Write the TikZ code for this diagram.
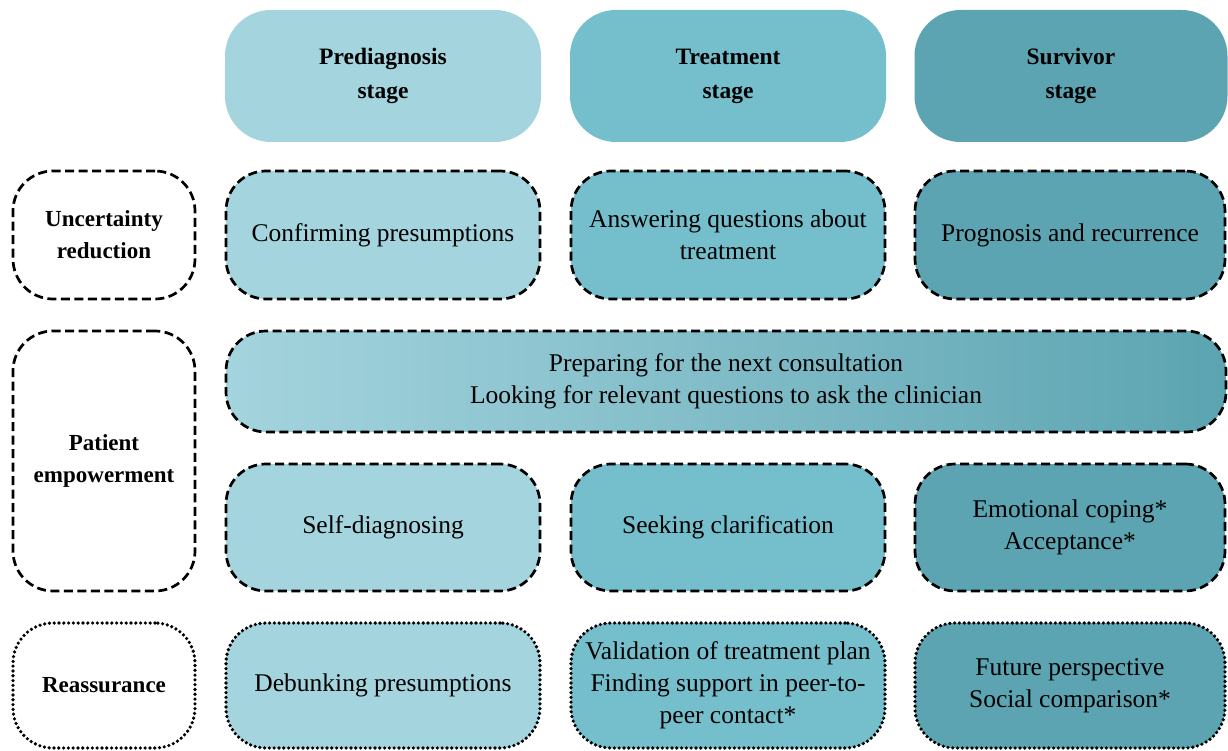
\documentclass[tikz,border=0pt]{standalone}
\usepackage{fontspec}
\setmainfont{Liberation Serif}
\definecolor{cpre}{HTML}{A4D4DE}
\definecolor{ctre}{HTML}{75BECC}
\definecolor{csur}{HTML}{5CA4B1}
\tikzset{
  box/.style={rectangle, rounded corners=40pt, align=center, inner sep=2pt, text=black,
    font=\fontsize{25.5}{32}\selectfont},
  head/.style={box, rounded corners=46pt, font=\bfseries\fontsize{23.5}{34}\selectfont,
    minimum width=316pt, minimum height=132pt},
  cell/.style={box, minimum width=314pt},
  lab/.style={box, fill=white, minimum width=182pt, font=\bfseries\fontsize{23}{32}\selectfont},
  dsh/.style={draw=black, line width=2.7pt, dash pattern=on 9pt off 4.5pt},
  dot/.style={draw=black, line width=3.6pt, line cap=round, dash pattern=on 0pt off 4.8pt},
}
\begin{document}
\begin{tikzpicture}[x=1pt,y=-1pt]
\useasboundingbox (0,0) rectangle (1228,751);
% headers
\node[head, fill=cpre] (hpre) at (383,76) {Prediagnosis\\stage};
\node[head, fill=ctre] (htre) at (728,76) {Treatment\\stage};
\node[head, fill=csur, minimum width=313pt] (hsur) at (1071,76) {Survivor\\stage};
% row labels
\node[lab, dsh, minimum height=128pt] (lunc) at (104,235) {Uncertainty\\reduction};
\node[lab, dsh, minimum height=260pt] (lemp) at (104,461) {Patient\\empowerment};
\node[lab, dot, minimum height=125pt] (lrea) at (104,685.5) {Reassurance};
% row 1
\node[cell, dsh, fill=cpre, minimum height=128pt] (c11) at (383,235) {Confirming presumptions};
\node[cell, dsh, fill=ctre, minimum height=128pt] (c12) at (728,235) {Answering questions about\\treatment};
\node[cell, dsh, fill=csur, minimum height=128pt, minimum width=310pt] (c13) at (1070,235) {Prognosis and recurrence};
% row 2 wide
\node[box, dsh, left color=cpre, right color=csur, minimum width=1000pt, minimum height=101pt] (c2) at (726,381.5)
  {Preparing for the next consultation\\Looking for relevant questions to ask the clinician};
% row 3
\node[cell, dsh, fill=cpre, minimum height=127pt] (c31) at (383,527.5) {Self-diagnosing};
\node[cell, dsh, fill=ctre, minimum height=127pt] (c32) at (728,527.5) {Seeking clarification};
\node[cell, dsh, fill=csur, minimum height=127pt, minimum width=310pt] (c33) at (1070,527.5) {Emotional coping*\\Acceptance*};
% row 4
\node[cell, dot, fill=cpre, minimum height=125pt] (c41) at (383,685.5) {Debunking presumptions};
\node[cell, dot, fill=ctre, minimum height=125pt] (c42) at (728,685.5) {Validation of treatment plan\\Finding support in peer-to-\\peer contact*};
\node[cell, dot, fill=csur, minimum height=125pt, minimum width=310pt] (c43) at (1070,685.5) {Future perspective\\Social comparison*};
\end{tikzpicture}
\end{document}
